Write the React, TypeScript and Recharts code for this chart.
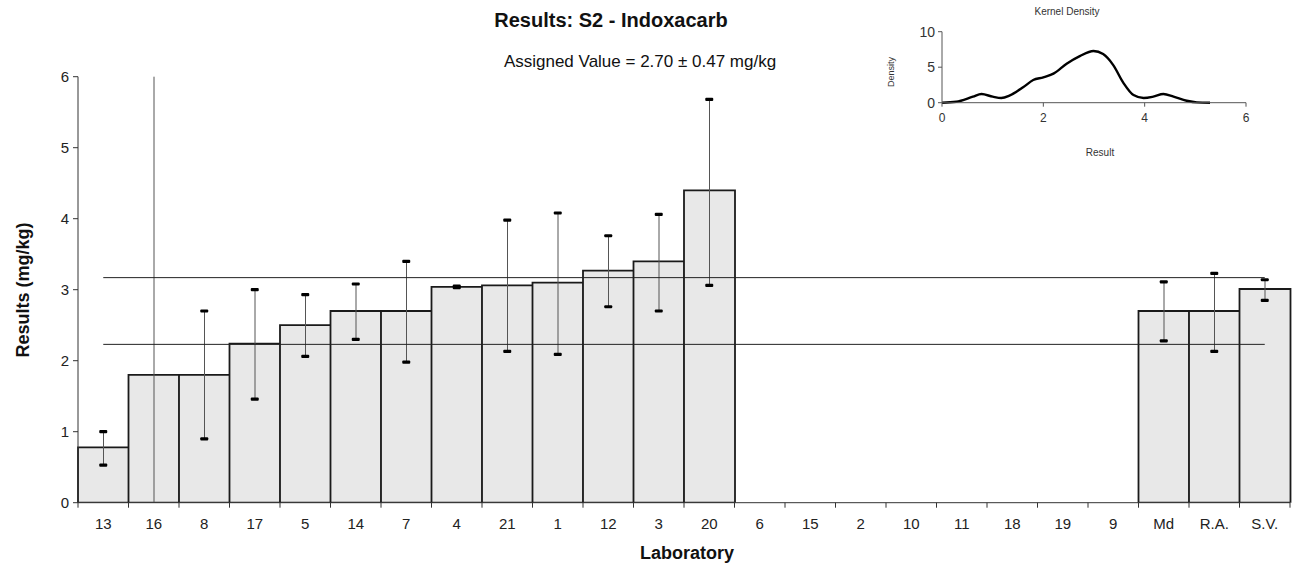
import React from 'react';
import {
  ComposedChart,
  Bar,
  XAxis,
  YAxis,
  ErrorBar,
  Scatter,
  ReferenceLine,
  LineChart,
  Line,
} from 'recharts';

// ---------- data ----------
const labs = ['13', '16', '8', '17', '5', '14', '7', '4', '21', '1', '12', '3', '20', '6', '15', '2', '10', '11', '18', '19', '9', 'Md', 'R.A.', 'S.V.'];
const results = [0.78, 1.8, 1.8, 2.24, 2.5, 2.7, 2.7, 3.04, 3.06, 3.1, 3.27, 3.4, 4.4, null, null, null, null, null, null, null, null, 2.7, 2.7, 3.01];
const lowerLimits = [0.53, -1.6, 0.9, 1.46, 2.06, 2.3, 1.98, 3.03, 2.13, 2.09, 2.76, 2.7, 3.06, null, null, null, null, null, null, null, null, 2.28, 2.13, 2.85];
const upperLimits = [1.0, 7.6, 2.7, 3.0, 2.93, 3.08, 3.4, 3.05, 3.98, 4.08, 3.76, 4.06, 5.68, null, null, null, null, null, null, null, null, 3.11, 3.23, 3.14];
const yTicks = [0, 1, 2, 3, 4, 5, 6];
const assignedValue = 2.7;
const assignedUnc = 0.47;

const densityX = [0, 0.28, 0.61, 0.78, 1.0, 1.17, 1.34, 1.6, 1.8, 2.0, 2.2, 2.46, 2.72, 2.99, 3.18, 3.38, 3.58, 3.78, 3.98, 4.17, 4.37, 4.57, 4.83, 5.03, 5.29];
const densityY = [0, 0.14, 0.85, 1.22, 0.85, 0.66, 1.03, 2.16, 3.2, 3.57, 4.1, 5.5, 6.57, 7.28, 6.85, 5.3, 2.8, 1.08, 0.66, 0.85, 1.22, 0.85, 0.28, 0.05, 0];
const densXTicks = [0, 2, 4, 6];
const densYTicks = [0, 5, 10];

// ---------- layout ----------
const W = 1298;
const H = 572;
const Y_DOMAIN: [number, number] = [0, 6];
const PLOT_LEFT = 78;
const PLOT_RIGHT = 1290;
const PLOT_W = PLOT_RIGHT - PLOT_LEFT;
const BAND = PLOT_W / labs.length;
const FONT = '"Liberation Sans", Arial, Helvetica, sans-serif';

const inRange = (v: number | null) => v != null && v >= Y_DOMAIN[0] && v <= Y_DOMAIN[1];
const clamp = (v: number) => Math.min(Y_DOMAIN[1], Math.max(Y_DOMAIN[0], v));

const data = labs.map((lab, i) => {
  const v = results[i];
  const lo = lowerLimits[i];
  const hi = upperLimits[i];
  return {
    lab,
    value: v,
    err: v != null && lo != null && hi != null ? [v - clamp(lo), clamp(hi) - v] : undefined,
    capLo: inRange(lo) ? lo : null,
    capHi: inRange(hi) ? hi : null,
  };
});

const densityData = densityX.map((x, i) => ({ x, y: densityY[i] }));

const makeCap = (key: 'capLo' | 'capHi') => (props: any) => {
  const { cx, cy, payload } = props;
  if (!payload || payload[key] == null || !Number.isFinite(cx) || !Number.isFinite(cy)) return <g />;
  return <rect x={cx - 4} y={cy - 1.6} width={8} height={3.2} rx={1} fill="#000" />;
};

const XTick = (props: any) => {
  const { x, y, payload, index } = props;
  return (
    <g>
      <line x1={x - BAND / 2} x2={x - BAND / 2} y1={y} y2={y + 5} stroke="#333" strokeWidth={1} />
      {index === labs.length - 1 && (
        <line x1={x + BAND / 2} x2={x + BAND / 2} y1={y} y2={y + 5} stroke="#333" strokeWidth={1} />
      )}
      <text x={x} y={y + 26} textAnchor="middle" fontSize={15} fill="#222" fontFamily={FONT}>
        {payload.value}
      </text>
    </g>
  );
};

const textStyle: React.CSSProperties = {
  position: 'absolute',
  fontFamily: FONT,
  color: '#111',
  whiteSpace: 'nowrap',
  lineHeight: 1,
};

export default function App() {
  return (
    <div style={{ position: 'absolute', left: 0, top: 0, width: W, height: H, background: '#fff', overflow: 'hidden' }}>
      <ComposedChart
        width={W}
        height={H}
        data={data}
        margin={{ top: 76.7, right: W - PLOT_RIGHT, bottom: 39.3, left: 0 }}
        barCategoryGap={0}
        barGap={0}
      >
        <XAxis
          dataKey="lab"
          type="category"
          interval={0}
          tickLine={false}
          tickSize={0}
          tickMargin={0}
          height={30}
          axisLine={{ stroke: '#333', strokeWidth: 1 }}
          tick={<XTick />}
        />
        <YAxis
          type="number"
          domain={Y_DOMAIN}
          ticks={yTicks}
          allowDataOverflow
          width={PLOT_LEFT}
          tickSize={5}
          tickMargin={4}
          axisLine={{ stroke: '#333', strokeWidth: 1 }}
          tickLine={{ stroke: '#333' }}
          tick={{ fontSize: 15, fill: '#222', fontFamily: FONT }}
        />
        <Bar dataKey="value" fill="#e8e8e8" stroke="#1a1a1a" strokeWidth={1.8} isAnimationActive={false}>
          <ErrorBar dataKey="err" width={0} stroke="#555" strokeWidth={1} direction="y" />
        </Bar>
        <ReferenceLine
          segment={[{ x: labs[0], y: assignedValue + assignedUnc }, { x: labs[labs.length - 1], y: assignedValue + assignedUnc }]}
          stroke="#222"
          strokeWidth={1}
        />
        <ReferenceLine
          segment={[{ x: labs[0], y: assignedValue - assignedUnc }, { x: labs[labs.length - 1], y: assignedValue - assignedUnc }]}
          stroke="#222"
          strokeWidth={1}
        />
        <Scatter dataKey="capHi" shape={makeCap('capHi')} isAnimationActive={false} />
        <Scatter dataKey="capLo" shape={makeCap('capLo')} isAnimationActive={false} />
      </ComposedChart>

      {/* titles */}
      <div style={{ ...textStyle, left: 611, top: 10, transform: 'translateX(-50%)', fontSize: 20, fontWeight: 'bold' }}>
        Results: S2 - Indoxacarb
      </div>
      <div style={{ ...textStyle, left: 640, top: 53, transform: 'translateX(-50%)', fontSize: 17 }}>
        Assigned Value = 2.70 ± 0.47 mg/kg
      </div>
      <div style={{ ...textStyle, left: 687, top: 544, transform: 'translateX(-50%)', fontSize: 18, fontWeight: 'bold' }}>
        Laboratory
      </div>
      <div
        style={{
          ...textStyle,
          left: 23,
          top: 290,
          transform: 'translate(-50%, -50%) rotate(-90deg)',
          fontSize: 18,
          fontWeight: 'bold',
        }}
      >
        Results (mg/kg)
      </div>

      {/* inset kernel density */}
      <div style={{ position: 'absolute', left: 890, top: 0, width: 360, height: 160 }}>
        <LineChart
          width={360}
          height={160}
          data={densityData}
          margin={{ top: 31.7, right: 4, bottom: 32.3, left: 22 }}
        >
          <XAxis
            dataKey="x"
            type="number"
            domain={[0, 6]}
            ticks={densXTicks}
            height={25}
            tickSize={4}
            tickMargin={7}
            axisLine={{ stroke: '#555' }}
            tickLine={{ stroke: '#555' }}
            tick={{ fontSize: 12, fill: '#333', fontFamily: FONT }}
          />
          <YAxis
            type="number"
            domain={[0, 10]}
            ticks={densYTicks}
            width={30}
            tickSize={4}
            tickMargin={3}
            axisLine={{ stroke: '#555' }}
            tickLine={{ stroke: '#555' }}
            tick={{ fontSize: 14, fill: '#333', fontFamily: FONT }}
          />
          <Line dataKey="y" type="monotone" stroke="#000" strokeWidth={2.4} dot={false} isAnimationActive={false} />
        </LineChart>
      </div>
      <div style={{ ...textStyle, left: 1067, top: 7, transform: 'translateX(-50%)', fontSize: 10, color: '#333' }}>
        Kernel Density
      </div>
      <div
        style={{
          ...textStyle,
          left: 891,
          top: 72,
          transform: 'translate(-50%, -50%) rotate(-90deg)',
          fontSize: 9,
          color: '#333',
        }}
      >
        Density
      </div>
      <div style={{ ...textStyle, left: 1100, top: 148, transform: 'translateX(-50%)', fontSize: 10, color: '#333' }}>
        Result
      </div>
    </div>
  );
}
